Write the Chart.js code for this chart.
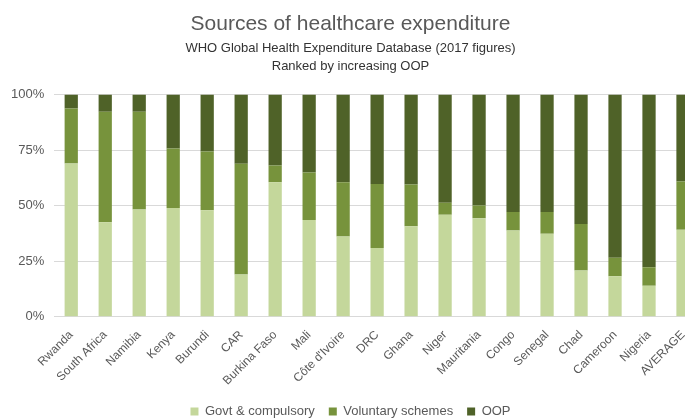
<!DOCTYPE html>
<html>
<head>
<meta charset="utf-8">
<script src="https://cdn.jsdelivr.net/npm/chart.js@4"></script>
<style>
  html, body { margin: 0; padding: 0; background: #fff; overflow: hidden; }
  #wrap { width: 685px; height: 418px; overflow: hidden; }
</style>
</head>
<body>
<div id="wrap"><canvas id="graphic" width="700" height="428"></canvas></div>
<script>
// Countries, ranked by increasing out-of-pocket share
var countries = ['Rwanda', 'South Africa', 'Namibia', 'Kenya', 'Burundi', 'CAR', 'Burkina Faso', 'Mali',
  "Côte d'Ivoire", 'DRC', 'Ghana', 'Niger', 'Mauritania', 'Congo', 'Senegal', 'Chad', 'Cameroon', 'Nigeria', 'AVERAGE'];

// Shares of health expenditure (%)
var govt = [69, 42.6, 48.3, 49, 48, 19.1, 60.6, 43.6, 36.1, 31, 40.8, 45.9, 44.4, 38.9, 37.4, 20.9, 18.3, 14, 39.2];
var voluntary = [24.8, 49.7, 44, 26.8, 26.4, 49.8, 7.5, 21.4, 24.5, 28.8, 18.7, 5.4, 5.7, 8.3, 9.8, 20.9, 8.3, 8.3, 21.7];
var oop = [6.2, 7.7, 7.7, 24.2, 25.6, 31.1, 31.9, 35, 39.4, 40.2, 40.5, 48.7, 49.9, 52.8, 52.8, 58.2, 73.4, 77.7, 39.1];

var yTicks = [0, 25, 50, 75, 100];

var grey = '#595959';
Chart.defaults.font.family = '"Liberation Sans", Arial, sans-serif';
Chart.defaults.color = grey;

var ctx = document.getElementById('graphic').getContext('2d');

var datos = {
  labels: countries,
  datasets: [
    { label: 'Govt & compulsory', data: govt, backgroundColor: '#c4d79b' },
    { label: 'Voluntary schemes', data: voluntary, backgroundColor: '#77933c' },
    { label: 'OOP', data: oop, backgroundColor: '#4f6228' }
  ]
};

var opciones = {
  responsive: false,
  animation: false,
  layout: { padding: { left: 1, right: 0, top: 4, bottom: 0 } },
  datasets: { bar: { barPercentage: 0.39, categoryPercentage: 1 } },
  plugins: {
    title: {
      display: true,
      text: 'Sources of healthcare expenditure',
      font: { size: 21, weight: 'normal' },
      color: grey,
      padding: { top: 8, bottom: 0 }
    },
    subtitle: {
      display: true,
      text: ['WHO Global Health Expenditure Database (2017 figures)', 'Ranked by increasing OOP'],
      font: { size: 13, lineHeight: 1.4 },
      color: '#333',
      padding: { top: 2, bottom: 19 }
    },
    legend: {
      position: 'bottom',
      labels: { boxWidth: 8, boxHeight: 8, font: { size: 13 }, color: grey, padding: 14 }
    },
    tooltip: { enabled: false }
  },
  scales: {
    x: {
      stacked: true,
      grid: { display: false },
      border: { display: false },
      ticks: { minRotation: 45, maxRotation: 45, autoSkip: false, font: { size: 12 }, color: grey }
    },
    y: {
      stacked: true,
      min: 0,
      max: 100,
      afterBuildTicks: function (axis) {
        axis.ticks = yTicks.map(function (v) { return { value: v }; });
      },
      grid: { color: '#d9d9d9', drawTicks: false },
      border: { display: false },
      ticks: {
        padding: 10,
        font: { size: 13 },
        color: grey,
        callback: function (v) { return v + '%'; }
      }
    }
  }
};

var miGrafico = new Chart(ctx, { type: 'bar', data: datos, options: opciones });
</script>
</body>
</html>
